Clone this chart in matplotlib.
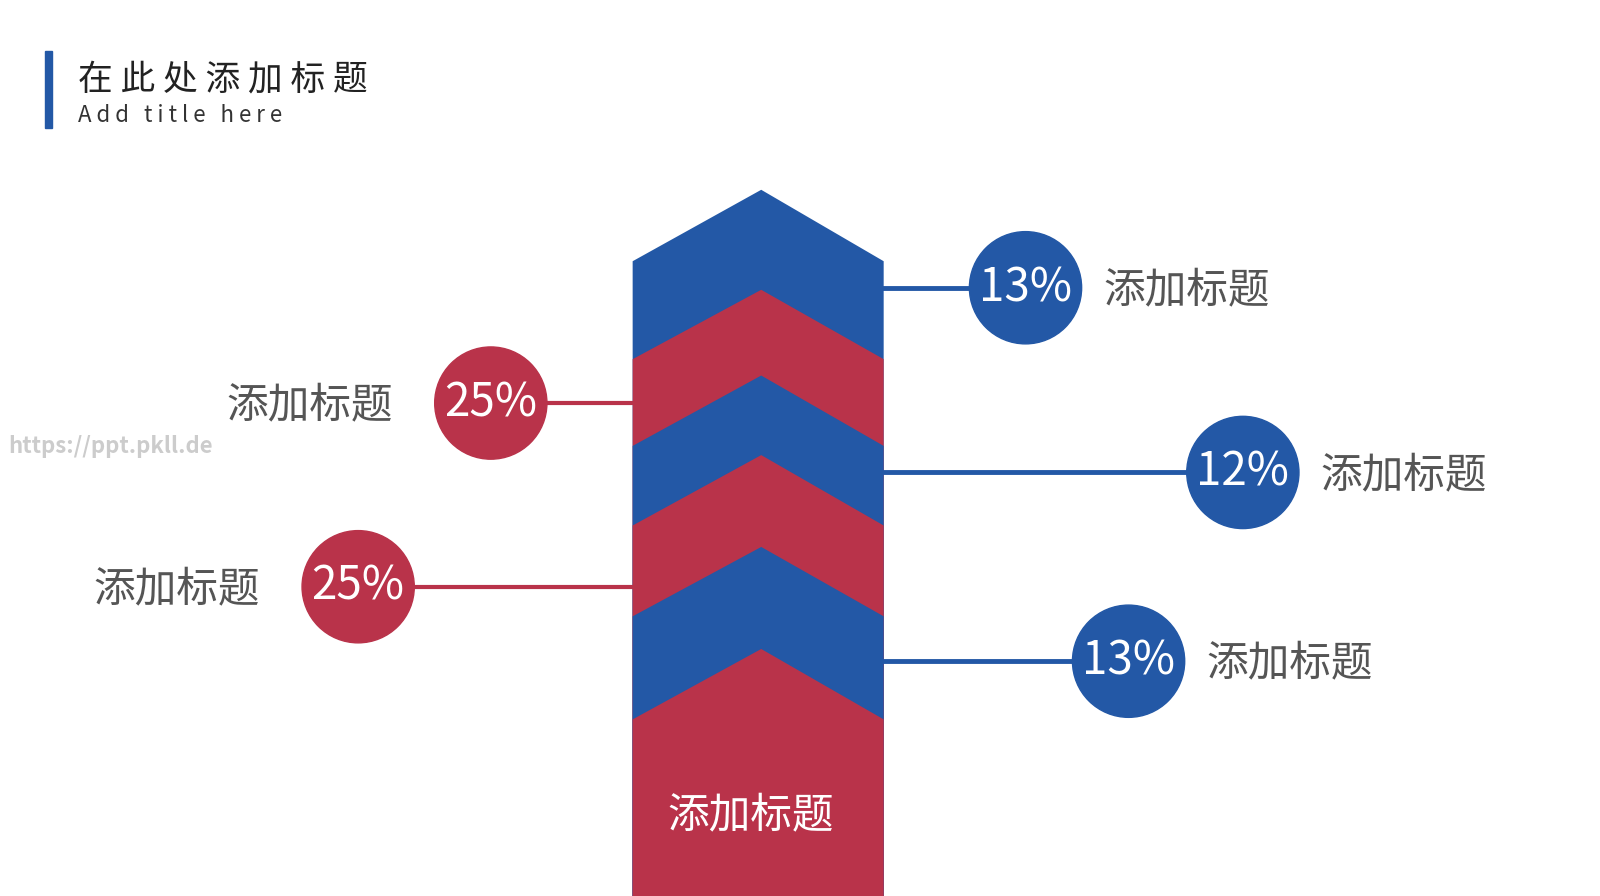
import matplotlib; matplotlib.use("Agg")
import matplotlib.pyplot as plt
from matplotlib.patches import Polygon, Circle, Rectangle

plt.rcParams['font.family'] = ['Noto Sans CJK SC', 'DejaVu Sans']
BLUE = '#2358a6'; RED = '#b9334a'; GRAY = '#555555'
K = 1600 / 1568  # positions measured on a 1568-wide view

# chevron stack (apex y, shoulder y), top to bottom
apex = [186, 284, 368, 446, 536, 636]
side = [256, 352, 437, 515, 604, 705]
band_colors = [BLUE, RED, BLUE, RED, BLUE, RED]

# callouts
pcts = ['13%', '12%', '13%', '25%', '25%']
labels = ['添加标题'] * 5
sides_lr = ['R', 'R', 'R', 'L', 'L']
cx = [1005, 1218, 1106, 481, 351]
cy = [282, 463, 648, 395, 575]

fig = plt.figure(figsize=(16, 8.96), dpi=100)
ax = fig.add_axes([0, 0, 1, 1])
ax.set_xlim(0, 1600 / K); ax.set_ylim(896 / K, 0); ax.axis('off')

x0, x1, xm, bot = 620, 866, 746, 900
for a, s, c in zip(apex, side, band_colors):
    ax.add_patch(Polygon([(x0, s), (xm, a), (x1, s), (x1, bot), (x0, bot)], color=c, lw=0))
ax.text(xm - 10, 800, '添加标题', color='white', fontsize=30, ha='center', va='center')

for p, lab, sd, x, y in zip(pcts, labels, sides_lr, cx, cy):
    col = BLUE if sd == 'R' else RED
    if sd == 'R':
        ax.plot([x1, x], [y, y], color=col, lw=3.5, zorder=1)
        ax.text(x + 76, y + 3, lab, color=GRAY, fontsize=30, ha='left', va='center')
    else:
        ax.plot([x, x0], [y, y], color=col, lw=3, zorder=1)
        ax.text(x - 96, y + 3, lab, color=GRAY, fontsize=30, ha='right', va='center')
    ax.add_patch(Circle((x, y), 55, color=col, zorder=2))
    ax.text(x, y, p, color='white', fontsize=33, ha='center', va='center', zorder=3)

# header
ax.add_patch(Rectangle((44, 50), 7, 75, color=BLUE))
ax.text(76, 78, '在 此 处 添 加 标 题', color='#222222', fontsize=25, va='center')
ax.text(76, 113, 'A d d   t i t l e   h e r e', color='#333333', fontsize=16, va='center')
ax.text(8, 438, 'https://ppt.pkll.de', color='#cccccc', fontsize=16, va='center', fontweight='bold')

fig.savefig('out.png', dpi=100, facecolor='white')
